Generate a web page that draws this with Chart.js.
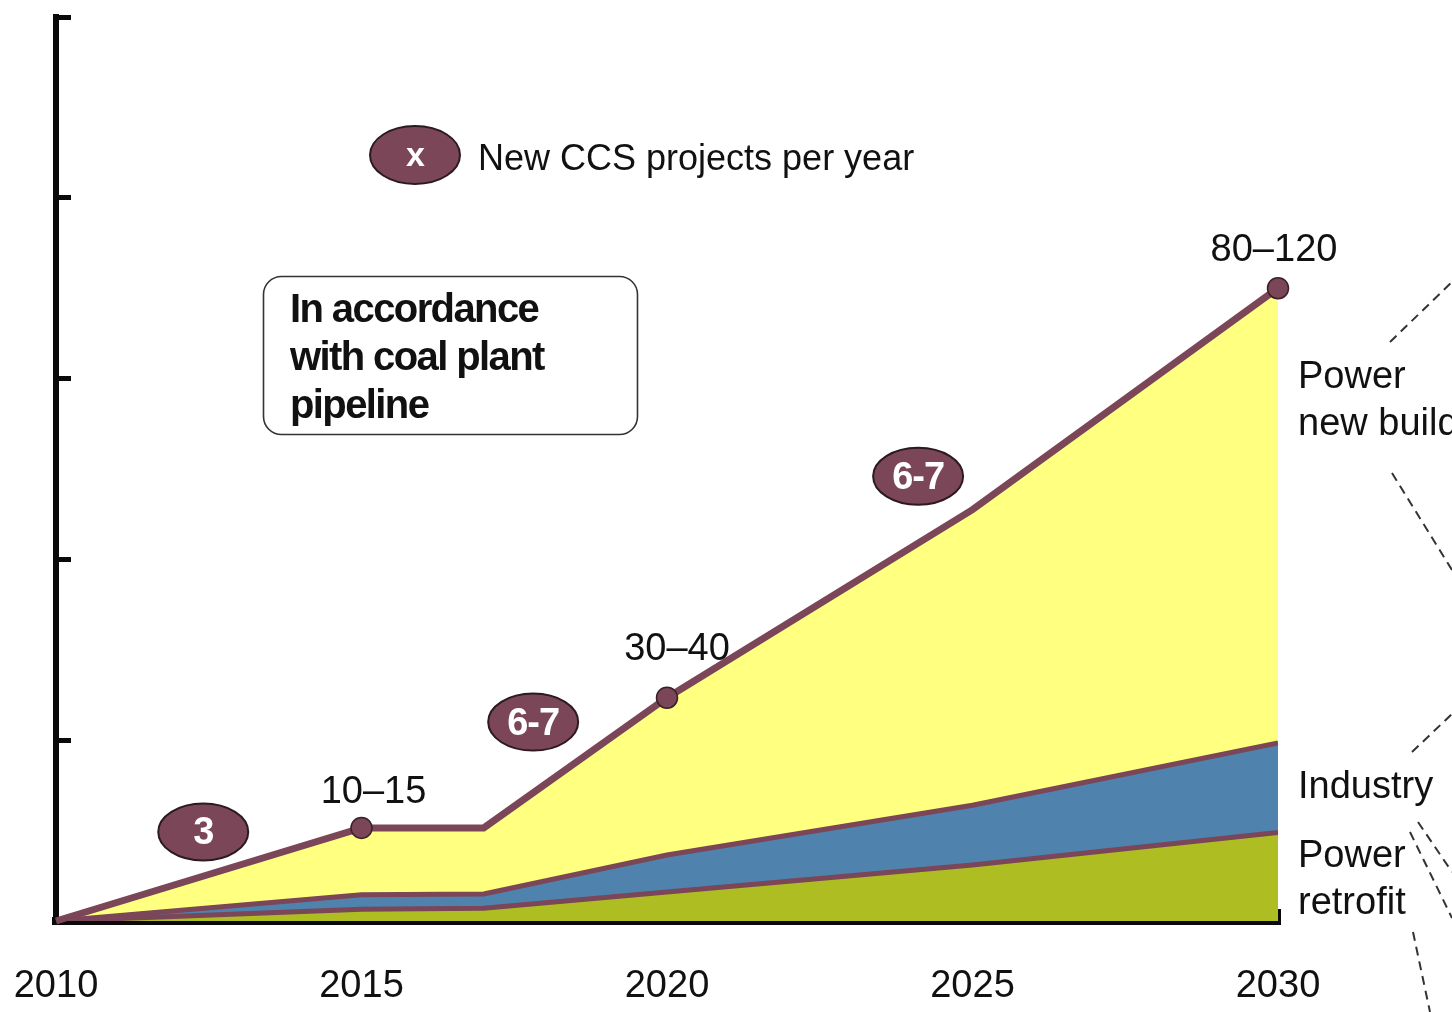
<!DOCTYPE html>
<html><head><meta charset="utf-8">
<script src="https://cdn.jsdelivr.net/npm/chart.js@4/dist/chart.umd.min.js"></script>
<style>html,body{margin:0;padding:0;background:#fff;overflow:hidden}#wrap{position:relative;width:1452px;height:1012px}</style>
</head><body><div id="wrap"><canvas id="c" width="1452" height="1012"></canvas></div>
<script>
// ---- data ----
const years = [2010, 2015, 2017, 2020, 2025, 2030];
const powerRetrofit = [0, 1.3, 1.4, 3.2, 6.2, 9.8];
const industry = [0, 1.6, 1.6, 4.1, 6.6, 9.9];
const powerNewBuild = [0, 7.4, 7.3, 17.4, 32.7, 50.3];
const xTickValues = [2010, 2015, 2020, 2025, 2030];
const yTickValues = [0, 20, 40, 60, 80, 100];
const milestoneYears = [2015, 2020, 2030];
const milestoneLabels = ['10–15', '30–40', '80–120'];
const rateLabels = ['3', '6-7', '6-7'];
const rateYears = [2012.41, 2017.81, 2024.11];
const rateLevels = [9.85, 22.0, 49.2];
const seriesNames = ['Power retrofit', 'Industry', 'Power new build'];

const PURPLE = '#7A4658';
const FONT = '"Liberation Sans", Arial, sans-serif';
const total = years.map((_, i) => powerRetrofit[i] + industry[i] + powerNewBuild[i]);
const pts = vals => years.map((yr, i) => ({x: yr, y: vals[i]}));
const markerRadius = years.map(yr => milestoneYears.includes(yr) ? 10.5 : 0);

function ellipse(ctx, cx, cy, rx, ry, text, fs) {
  ctx.beginPath();
  ctx.ellipse(cx, cy, rx, ry, 0, 0, Math.PI * 2);
  ctx.fillStyle = PURPLE; ctx.fill();
  ctx.lineWidth = 2; ctx.strokeStyle = '#2b1a20'; ctx.stroke();
  ctx.fillStyle = '#fff';
  ctx.font = 'bold ' + fs + 'px ' + FONT;
  ctx.textAlign = 'center'; ctx.textBaseline = 'middle';
  ctx.letterSpacing = '-1px';
  ctx.fillText(text, cx, cy + 2);
  ctx.letterSpacing = '0px';
}

const annot = {
  id: 'annot',
  afterDraw(chart) {
    const {ctx, scales: {x, y}, chartArea} = chart;
    ctx.save();
    // milestone labels above points
    const dx = [12, 10, -4], dy = [25, 38, 27];
    milestoneYears.forEach((yr, k) => {
      const i = years.indexOf(yr);
      const px = x.getPixelForValue(yr), py = y.getPixelForValue(total[i]);
      ctx.font = '38px ' + FONT; ctx.fillStyle = '#111';
      ctx.textAlign = 'center'; ctx.textBaseline = 'alphabetic';
      ctx.fillText(milestoneLabels[k], px + dx[k], py - dy[k]);
    });
    // rate badges
    rateLabels.forEach((t, k) => {
      ellipse(ctx, x.getPixelForValue(rateYears[k]), y.getPixelForValue(rateLevels[k]), 45, 28.5, t, 38);
    });
    // legend
    ellipse(ctx, 415, 155, 45, 29, 'x', 34);
    ctx.font = '36px ' + FONT; ctx.fillStyle = '#111';
    ctx.textAlign = 'left'; ctx.textBaseline = 'alphabetic';
    ctx.fillText('New CCS projects per year', 478, 170);
    // box
    ctx.beginPath();
    ctx.roundRect(263.5, 276.5, 374, 158, 18);
    ctx.lineWidth = 1.6; ctx.strokeStyle = '#333'; ctx.stroke();
    ctx.font = 'bold 40px ' + FONT; ctx.fillStyle = '#111';
    ctx.letterSpacing = '-1.6px';
    ['In accordance', 'with coal plant', 'pipeline'].forEach((s, i) => ctx.fillText(s, 290, 322 + i * 48));
    ctx.letterSpacing = '0px';
    // right labels
    const rx = chartArea.right + 20;
    ctx.font = '38px ' + FONT; ctx.fillStyle = '#111';
    ctx.fillText('Power', rx, 388);
    ctx.fillText('new build', rx, 435);
    ctx.fillText('Industry', rx, 798);
    ctx.fillText('Power', rx, 867);
    ctx.fillText('retrofit', rx, 914);
    // dashed connector lines (decorative)
    ctx.setLineDash([9, 6]); ctx.lineWidth = 2; ctx.strokeStyle = '#333';
    [[1390, 342, 1452, 282], [1392, 473, 1452, 570], [1412, 752, 1452, 714],
     [1418, 822, 1452, 872], [1410, 832, 1452, 918], [1413, 932, 1430, 1012]].forEach(l => {
      ctx.beginPath(); ctx.moveTo(l[0], l[1]); ctx.lineTo(l[2], l[3]); ctx.stroke();
    });
    ctx.restore();
  }
};

new Chart(document.getElementById('c'), {
  type: 'line',
  data: {
    datasets: [
      {label: seriesNames[0], data: pts(powerRetrofit), backgroundColor: '#AEBE22', borderColor: PURPLE, borderWidth: 5, fill: 'origin', pointRadius: 0},
      {label: seriesNames[1], data: pts(industry), backgroundColor: '#4F83AD', borderColor: PURPLE, borderWidth: 5, fill: '-1', pointRadius: 0},
      {label: seriesNames[2], data: pts(powerNewBuild), backgroundColor: '#FFFF80', borderColor: PURPLE, borderWidth: 7, fill: '-1',
       pointRadius: markerRadius, pointBackgroundColor: PURPLE, pointBorderColor: '#3a2028', pointBorderWidth: 1.5, clip: false}
    ]
  },
  options: {
    responsive: false, animation: false, devicePixelRatio: 1,
    events: [],
    layout: {padding: {left: 0, right: 174, top: 17, bottom: 0}},
    plugins: {legend: {display: false}, tooltip: {enabled: false}},
    elements: {line: {tension: 0, borderJoinStyle: 'miter'}},
    scales: {
      x: {
        type: 'linear', min: 2010, max: 2030,
        afterBuildTicks: s => { s.ticks = xTickValues.map(v => ({value: v})); },
        afterFit: s => { s.height = 91; s.paddingLeft = 0; s.paddingRight = 0; },
        ticks: {font: {family: FONT, size: 38}, color: '#111', padding: 55, maxRotation: 0, callback: v => String(v)},
        grid: {display: true, drawOnChartArea: false, drawTicks: true, tickLength: -12, lineWidth: 5, color: '#0a0a0a'},
        border: {display: true, width: 8, color: '#0a0a0a'}
      },
      y: {
        stacked: true, min: 0, max: 100,
        afterBuildTicks: s => { s.ticks = yTickValues.map(v => ({value: v})); },
        afterFit: s => { s.width = 56; s.paddingTop = 0; s.paddingBottom = 0; },
        ticks: {display: false},
        grid: {display: true, drawOnChartArea: false, drawTicks: true, tickLength: -15, lineWidth: 5, color: '#0a0a0a'},
        border: {display: true, width: 6, color: '#0a0a0a'}
      }
    }
  },
  plugins: [annot]
});
</script>
</body></html>
